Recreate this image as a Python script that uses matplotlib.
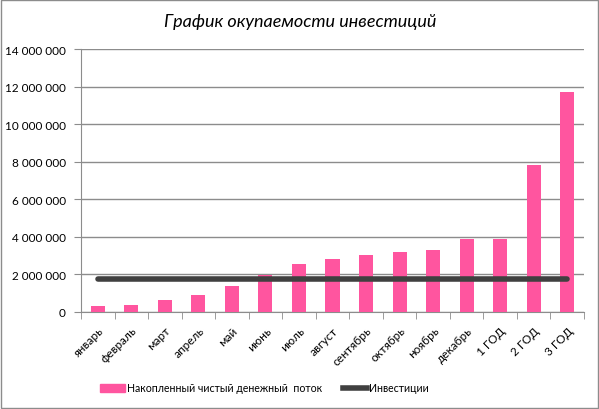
import matplotlib
matplotlib.use("Agg")
import matplotlib.pyplot as plt
from matplotlib.patches import Rectangle
from matplotlib.lines import Line2D
from matplotlib.ticker import FuncFormatter, MultipleLocator, FixedLocator
import numpy as np

categories = ["январь", "февраль", "март", "апрель", "май", "июнь", "июль", "август",
              "сентябрь", "октябрь", "ноябрь", "декабрь", "1 ГОД", "2 ГОД", "3 ГОД"]
cash_flow = [340000, 390000, 660000, 920000, 1400000, 1970000, 2580000, 2840000,
             3060000, 3220000, 3320000, 3860000, 3860000, 7800000, 11700000]
investments = [1740000] * 15

plt.rcParams['font.family'] = ['Lato', 'DejaVu Sans']

fig = plt.figure(figsize=(5.99, 4.10), dpi=100)
ax = fig.add_axes([81/599, 97/410, (584-81)/599, (313-50)/410])

x = np.arange(len(categories))
ax.bar(x, cash_flow, width=0.42, color="#FF559F", zorder=3, label="Накопленный чистый денежный  поток")
ax.plot(x, investments, color="#404040", linewidth=4, solid_capstyle="round", zorder=4, label="Инвестиции")

ax.set_xlim(-0.5, len(categories) - 0.5)
ax.set_ylim(0, 14000000)
ax.yaxis.set_major_locator(MultipleLocator(2000000))
ax.yaxis.set_major_formatter(FuncFormatter(lambda v, p: f"{int(v):,}".replace(",", " ")))
ax.grid(axis="y", color="#8C8C8C", linewidth=1, zorder=0)

ax.set_xticks(x)
ax.set_xticklabels(categories, rotation=45, ha="right", rotation_mode="anchor", fontsize=8.5)
ax.tick_params(axis="x", length=0, pad=9)
ax.xaxis.set_minor_locator(FixedLocator(np.arange(-0.5, len(categories), 1.0)))
ax.tick_params(axis="x", which="minor", length=5, color="#8C8C8C", direction="out")
ax.tick_params(axis="y", labelsize=8.5, length=5, color="#8C8C8C", direction="out", pad=6)

for s in ["top", "right"]:
    ax.spines[s].set_visible(False)
for s in ["left", "bottom"]:
    ax.spines[s].set_color("#8C8C8C")

fig.text(300/599, 1 - 22/410, "График окупаемости инвестиций", ha="center", va="center",
         fontsize=13, style="italic")

handles = [Rectangle((0, 0), 1, 1, color="#FF559F"),
           Line2D([0], [0], color="#404040", linewidth=4)]
fig.legend(handles, ["Накопленный чистый денежный  поток", "Инвестиции"],
           loc="center left", bbox_to_anchor=(96/599, 1 - 389/410), ncol=2, frameon=False,
           fontsize=7.6, handlelength=2.3, columnspacing=2.0, handletextpad=0.2,
           borderaxespad=0)

fig.patches.append(Rectangle((1/599, 1/410), 597/599, 408/410, transform=fig.transFigure,
                             fill=False, edgecolor="#8C8C8C", linewidth=1))

fig.savefig("out.png", dpi=100, facecolor="white")
